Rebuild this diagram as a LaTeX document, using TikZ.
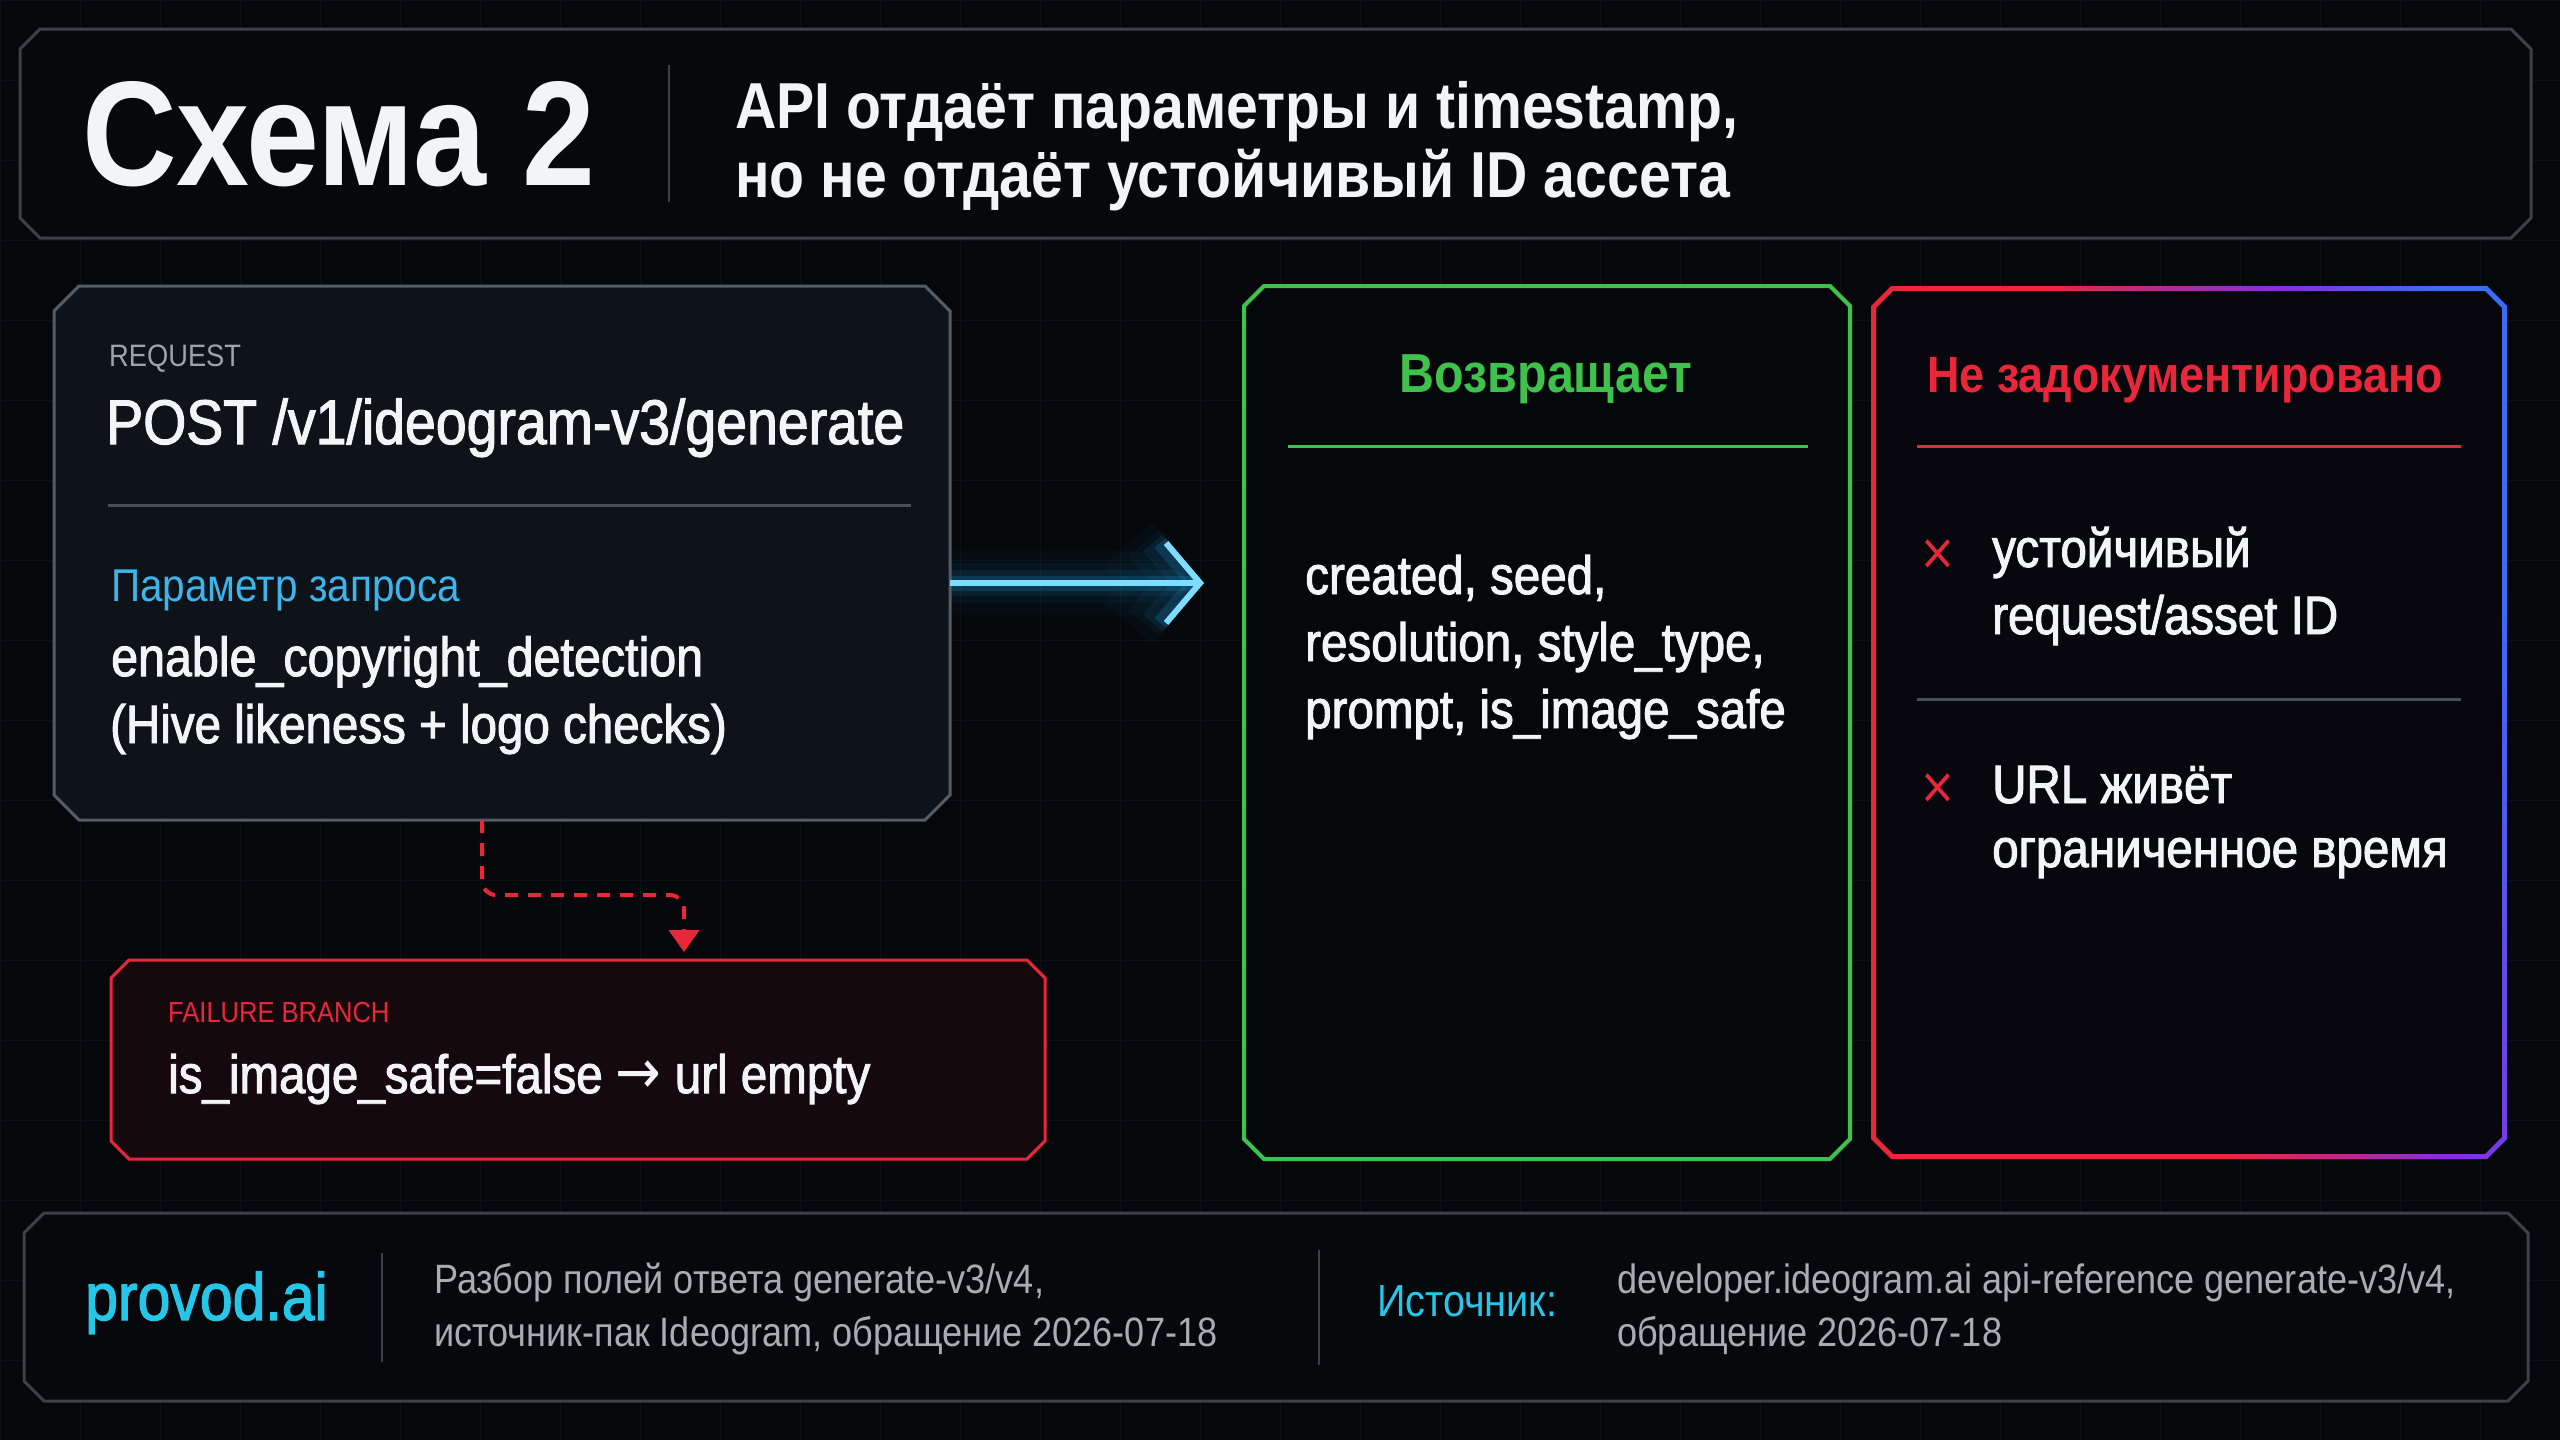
\documentclass[tikz,border=0pt]{standalone}
\usepackage{fontspec}
\setmainfont{Liberation Sans}[FakeStretch=0.88]
\newfontfamily\mediumfont{Liberation Sans}[FakeStretch=0.88, FakeBold=1.8]
\newfontfamily\symfont{DejaVu Sans}[FakeStretch=0.88]
\usetikzlibrary{arrows.meta,positioning}
\pgfdeclarelayer{bg}
\pgfsetlayers{bg,main}

\definecolor{bgdark}{HTML}{05070B}
\definecolor{gridline}{HTML}{0B1016}
\definecolor{panelfill}{HTML}{06080C}
\definecolor{reqfill}{HTML}{0D1319}
\definecolor{framegray}{HTML}{3C4048}
\definecolor{reqgray}{HTML}{535C69}
\definecolor{sepgray}{HTML}{4A4F57}
\definecolor{txtwhite}{HTML}{F2F4F6}
\definecolor{tagGray}{HTML}{9EA3AA}
\definecolor{notegray}{HTML}{A9ADB3}
\definecolor{paramblue}{HTML}{3DB5EA}
\definecolor{flowcyan}{HTML}{1FA8EC}
\definecolor{flowcore}{HTML}{7EDCFF}
\definecolor{okgreen}{HTML}{3EC24C}
\definecolor{okfill}{HTML}{05080A}
\definecolor{errred}{HTML}{E8283A}
\definecolor{errviolet}{HTML}{8A2BE2}
\definecolor{errblue}{HTML}{3A6CF5}
\definecolor{missfill}{HTML}{07070D}
\definecolor{failfill}{HTML}{16090D}
\definecolor{brandcyan}{HTML}{25C6E8}

\pgfdeclarehorizontalshading{missgrad}{100bp}{color(0bp)=(errred); color(25bp)=(errred); color(46bp)=(errred); color(63bp)=(errviolet); color(75bp)=(errblue); color(100bp)=(errblue)}

% outline of a box with cut corners: node, cut, inset
\newcommand\chamfpath[3]{([shift={(#2,-#3)}]#1.north west) -- ([shift={(-#2,-#3)}]#1.north east)
  -- ([shift={(-#3,-#2)}]#1.north east) -- ([shift={(-#3,#2)}]#1.south east)
  -- ([shift={(-#2,#3)}]#1.south east) -- ([shift={(#2,#3)}]#1.south west)
  -- ([shift={(#3,#2)}]#1.south west) -- ([shift={(#3,-#2)}]#1.north west) -- cycle}

\tikzset{
  box/.style={rectangle, draw=none, inner sep=0pt, outer sep=0pt},
  lbl/.style={anchor=base west, inner sep=0pt, text=txtwhite},
  tag/.style={lbl, text=tagGray, font=\fontsize{31}{36}\selectfont},
  body/.style={lbl, font=\mediumfont\fontsize{54}{66}\selectfont},
  note/.style={lbl, text=notegray, font=\fontsize{41}{50}\selectfont},
  colhead/.style={anchor=base, inner sep=0pt, font=\fontsize{53}{60}\selectfont\bfseries},
  cross/.style={inner sep=0pt, text=errred, font=\symfont\fontsize{50}{54}\selectfont},
  sep/.style={draw=sepgray, line width=3pt},
  divider/.style={draw=framegray, line width=2pt},
  flow/.style={draw=flowcore, line width=6pt, shorten >=40pt, -{Straight Barb[length=34pt, width=80pt]}},
  failline/.style={draw=errred, line width=4pt, dash pattern=on 13pt off 10pt, rounded corners=14pt,
    shorten >=8pt, -{Triangle[length=22pt, width=30pt]}},
}

\begin{document}
\begin{tikzpicture}[x=1pt, y=-1pt]
  \useasboundingbox (0,0) rectangle (2560,1440);
  \begin{pgfonlayer}{bg}
    \fill[bgdark] (0,0) rectangle (2560,1440);
    \draw[gridline, line width=1pt, step=80pt] (0,0) grid (2560,1440);
  \end{pgfonlayer}

  % frames
  \node[box, minimum width=2511pt, minimum height=209pt] (head) at (1275.5,133.5) {};
  \node[box, minimum width=896pt, minimum height=534pt] (req) at (502,553) {};
  \node[box, minimum width=606pt, minimum height=873pt] (ret) at (1547,722.5) {};
  \node[box, minimum width=636pt, minimum height=873pt] (miss) at (2189,722.5) {};
  \node[box, minimum width=934pt, minimum height=199pt] (fail) at (578,1059.5) {};
  \node[box, minimum width=2504pt, minimum height=188pt] (foot) at (1276,1307) {};

  \filldraw[fill=panelfill, draw=framegray, line width=3pt] \chamfpath{head}{20pt}{0pt};
  \filldraw[fill=reqfill, draw=reqgray, line width=3pt] \chamfpath{req}{25pt}{0pt};
  \filldraw[fill=okfill, draw=okgreen, line width=4pt] \chamfpath{ret}{20pt}{0pt};
  \fill[missfill] \chamfpath{miss}{20pt}{0pt};
  \shade[shading=missgrad, shading angle=12, even odd rule] \chamfpath{miss}{20pt}{0pt} \chamfpath{miss}{22pt}{5pt};
  \filldraw[fill=failfill, draw=errred, line width=3pt] \chamfpath{fail}{18pt}{0pt};
  \filldraw[fill=panelfill, draw=framegray, line width=3pt] \chamfpath{foot}{20pt}{0pt};

  % header
  \node[lbl, font=\fontsize{149}{160}\selectfont\bfseries] (ttl) at (82,185) {Схема 2};
  \draw[divider] (669,65) -- (669,202);
  \node[lbl, font=\fontsize{65}{72}\selectfont\bfseries] (sub1) at (735,128) {API отдаёт параметры и timestamp,};
  \node[lbl, font=\fontsize{65}{72}\selectfont\bfseries] (sub2) at (735,197) {но не отдаёт устойчивый ID ассета};

  % request
  \node[tag] (reqtag) at (109,366) {REQUEST};
  \node[lbl, font=\mediumfont\fontsize{63}{70}\selectfont] (reqpath) at (106,444) {POST /v1/ideogram-v3/generate};
  \draw[sep] (108,505) -- (911,505);
  \node[lbl, text=paramblue, font=\fontsize{46}{50}\selectfont] (reqpar) at (111,601) {Параметр запроса};
  \node[body, font=\mediumfont\fontsize{55}{66}\selectfont] (reqp1) at (111,676) {enable\_copyright\_detection};
  \node[body, font=\mediumfont\fontsize{54}{66}\selectfont] (reqp2) at (110,743) {(Hive likeness + logo checks)};

  % returned fields
  \node[colhead, text=okgreen, font=\fontsize{55}{60}\selectfont\bfseries] (rethead) at (1546,392) {Возвращает};
  \draw[okgreen, line width=3pt] (1288,446) -- (1808,446);
  \node[body] (ret1) at (1305,594) {created, seed,};
  \node[body] (ret2) at (1305,661) {resolution, style\_type,};
  \node[body] (ret3) at (1305,728) {prompt, is\_image\_safe};

  % not documented
  \node[colhead, text=errred, font=\fontsize{51}{60}\selectfont\bfseries] (misshead) at (2185,392) {Не задокументировано};
  \draw[errred, line width=3pt] (1917,446) -- (2461,446);
  \node[cross] (x1) at (1938,555) {×};
  \node[body] (miss1a) at (1992,567) {устойчивый};
  \node[body] (miss1b) at (1992,634) {request/asset ID};
  \draw[sep] (1917,699) -- (2461,699);
  \node[cross] (x2) at (1938,789) {×};
  \node[body] (miss2a) at (1992,803) {URL живёт};
  \node[body] (miss2b) at (1992,867) {ограниченное время};

  % failure
  \node[tag, text=errred, font=\fontsize{29}{36}\selectfont] (failtag) at (168,1022) {FAILURE BRANCH};
  \node[body] (failtxt) at (168,1093) {is\_image\_safe=false {\symfont\fontsize{62}{66}\selectfont →} url empty};

  % footer
  \node[lbl, text=brandcyan, font=\mediumfont\fontsize{67}{70}\selectfont] (brand) at (85,1320) {provod.ai};
  \draw[divider] (382,1253) -- (382,1362);
  \node[note] (note1) at (434,1293) {Разбор полей ответа generate-v3/v4,};
  \node[note] (note2) at (434,1346) {источник-пак Ideogram, обращение 2026-07-18};
  \draw[divider] (1319,1250) -- (1319,1365);
  \node[lbl, text=brandcyan, font=\fontsize{45}{50}\selectfont] (srclbl) at (1377,1316) {Источник:};
  \node[note] (src1) at (1617,1293) {developer.ideogram.ai api-reference generate-v3/v4,};
  \node[note] (src2) at (1617,1346) {обращение 2026-07-18};

  % connectors
  \begin{pgfonlayer}{bg}
    \foreach \w/\o in {64/0.03, 40/0.05, 26/0.09, 15/0.18}
      \draw[flowcyan, line width=\w pt, opacity=\o, line cap=round, shorten >=40pt,
        -{Straight Barb[length=34pt, width=80pt]}] ([yshift=-30pt]req.east) -- ([yshift=-30pt]req.east -| ret.west);
  \end{pgfonlayer}
  \draw[flow] ([yshift=-30pt]req.east) -- ([yshift=-30pt]req.east -| ret.west);
  \draw[failline] ([xshift=-20pt]req.south) -- ++(0pt,-75pt) -| ([xshift=106pt]fail.north);
\end{tikzpicture}
\end{document}
